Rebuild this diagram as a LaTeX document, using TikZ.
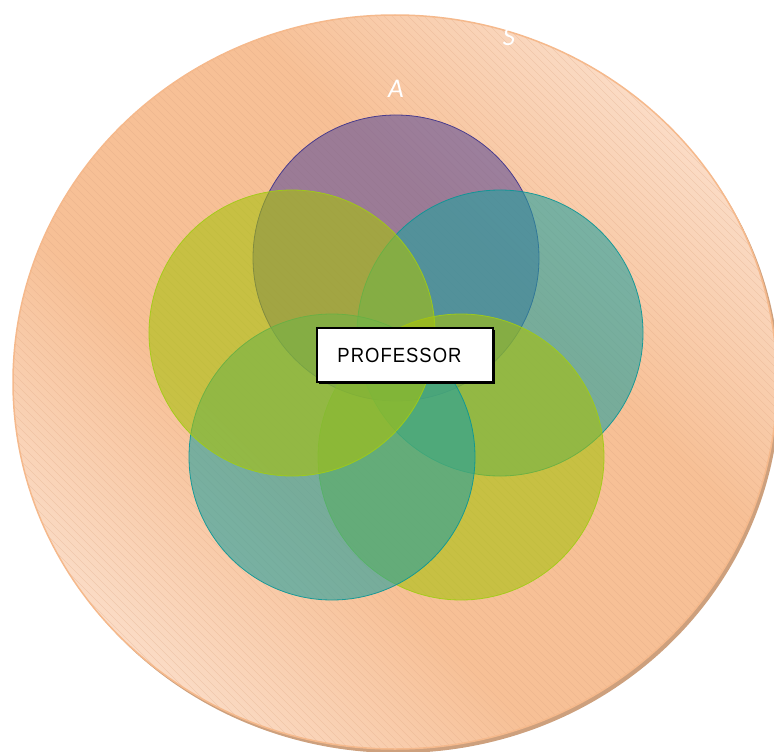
\documentclass[tikz,border=0pt]{standalone}
\usepackage{fontspec}
\setmainfont{Liberation Sans}
\newfontfamily\lblfont{Carlito}
\newfontfamily\proffont[FakeStretch=0.9, LetterSpace=5]{Liberation Sans}
\usetikzlibrary{shadings}
\definecolor{peachL}{RGB}{251,221,200}
\definecolor{peachD}{RGB}{247,192,150}
\definecolor{peachB}{RGB}{245,185,140}
\definecolor{shadowc}{RGB}{205,160,125}
\definecolor{hatchc}{RGB}{220,165,130}
\definecolor{purp}{RGB}{95,78,150}
\definecolor{purpB}{RGB}{60,50,140}
\definecolor{ygreen}{RGB}{167,193,12}
\definecolor{ygreenB}{RGB}{160,205,20}
\definecolor{teal}{RGB}{35,160,158}
\definecolor{tealB}{RGB}{10,150,150}
\pgfdeclareverticalshading{peachband}{100bp}{color(0bp)=(peachL); color(24bp)=(peachL); color(40bp)=(peachD); color(60bp)=(peachD); color(76bp)=(peachL); color(100bp)=(peachL)}
\tikzset{
  vset/.style={circle, minimum size=286pt, inner sep=0pt, fill opacity=0.6, draw opacity=0.9, line width=0.8pt},
  lbl/.style={text=white, font=\lblfont\itshape\fontsize{27}{30}\selectfont, inner sep=0pt},
  profbox/.style={draw=black, fill=white, line width=1.5pt, minimum width=176pt, minimum height=54pt, inner sep=0pt}
}
\begin{document}
\begin{tikzpicture}[x=1pt,y=-1pt]
\useasboundingbox (0,0) rectangle (774,752);
% shadow
\fill[shadowc] (398,386) ellipse [x radius=382, y radius=367];
% universe
\shade[shading=peachband, shading angle=-45]
  (395,382) ellipse [x radius=382, y radius=367];
\begin{scope}
  \clip (395,382) ellipse [x radius=382, y radius=367];
  \foreach \i in {-800,-792,...,800}{
    \draw[hatchc, line width=0.25pt, opacity=0.55] (\i,0) -- ++(760,760);
  }
\end{scope}
\draw[peachB, line width=1.5pt] (395,382) ellipse [x radius=382, y radius=367];
% sets
\node[vset, fill=purp, draw=purpB] (p) at (396,258) {};
\node[vset, fill=teal, draw=tealB] (r) at (500,333) {};
\node[vset, fill=ygreen, draw=ygreenB] (br) at (461,457) {};
\node[vset, fill=teal, draw=tealB] (bl) at (332,457) {};
\node[vset, fill=ygreen, draw=ygreenB] (l) at (292,333) {};
% labels
\node[lbl] (A) at (396,89) {A};
\node[lbl] (S) at (509,37) {S};
% professor box
\fill[black] (319,330) rectangle (495,384);
\node[profbox] (prof) at (405,355) {};
\node[font=\proffont\fontsize{20.5}{24}\selectfont, inner sep=0pt, anchor=center] (proft) at (399.5,355.5) {PROFESSOR};
\end{tikzpicture}
\end{document}
